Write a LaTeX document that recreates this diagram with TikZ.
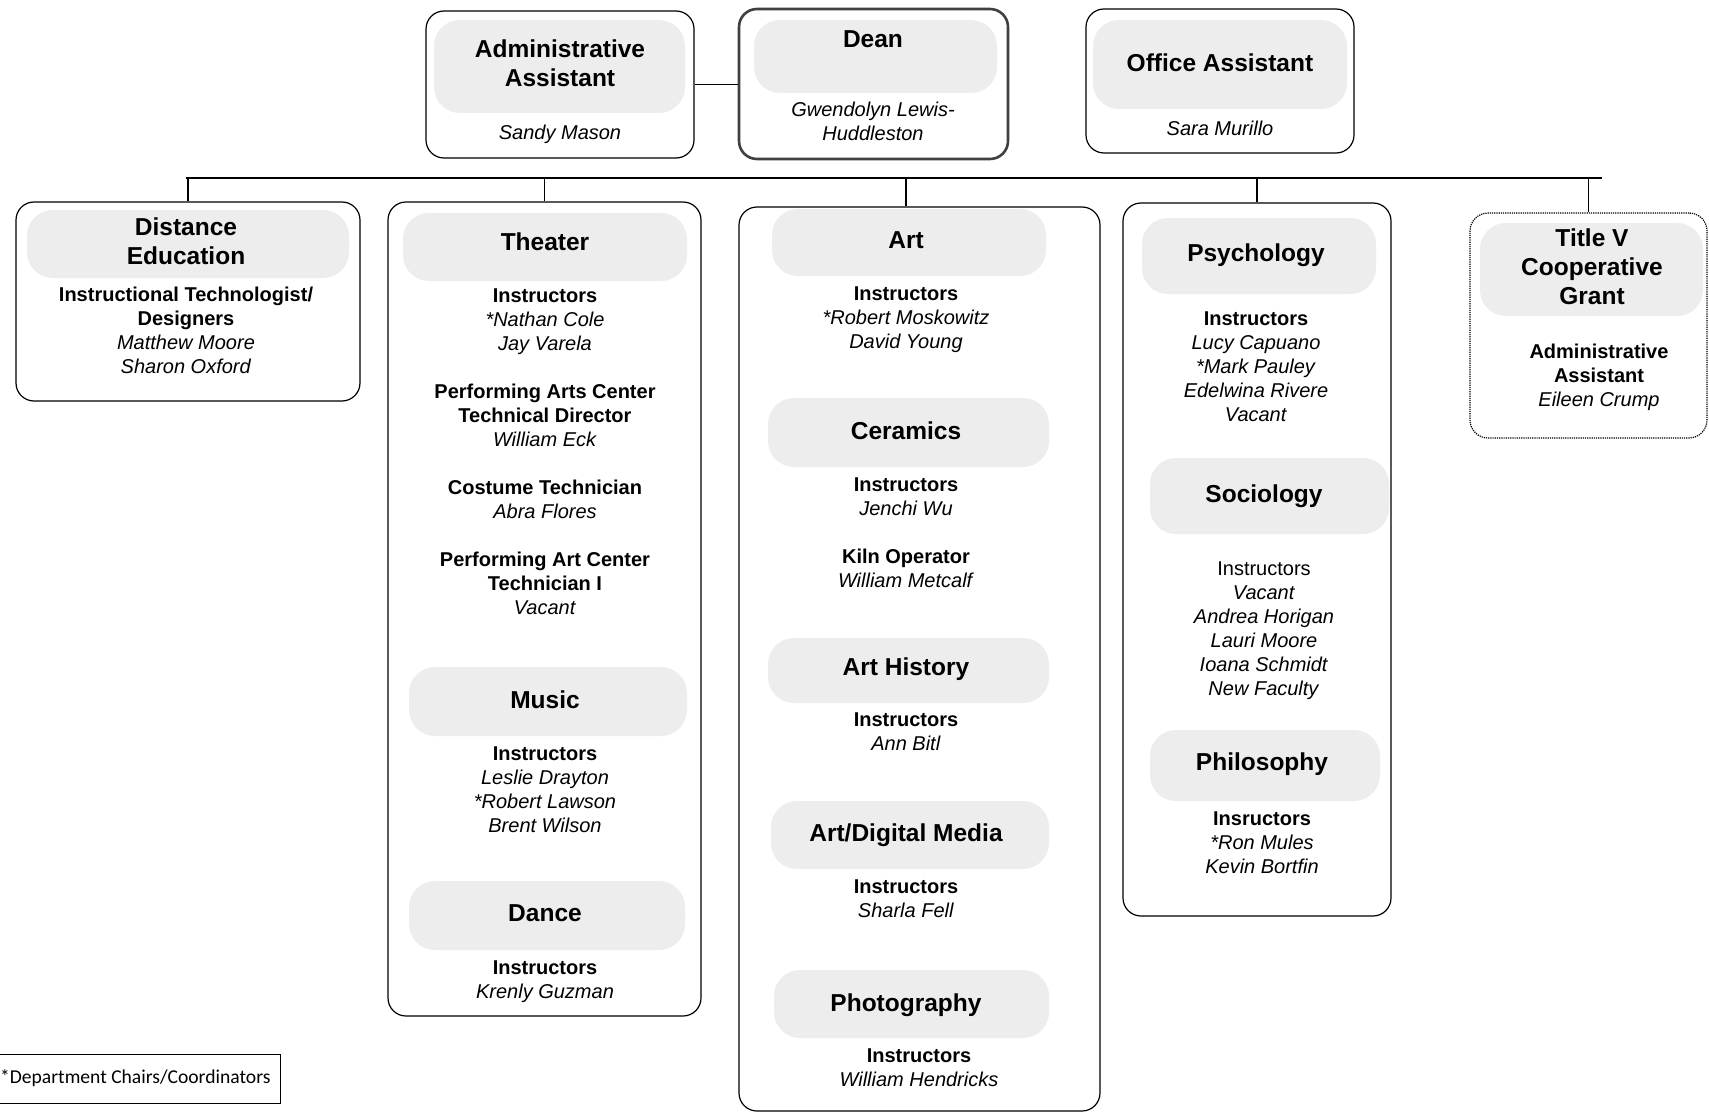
\documentclass[tikz,border=0pt]{standalone}
\usepackage{fontspec}
\setmainfont{Liberation Sans}
\newfontfamily\legendfont{Carlito}
\newcommand{\role}[1]{\textbf{#1}}
\newcommand{\who}[1]{\textit{#1}}
\newcommand{\blk}[1]{\begin{tabular}[t]{@{}c@{}}#1\end{tabular}}

\tikzset{
  unit/.style={draw, line width=1.2pt, rounded corners=18pt, inner sep=0pt},
  deanbox/.style={unit, line width=2.6pt, draw=black!75},
  grantbox/.style={unit, densely dotted},
  stip/.style={fill=black!7, rounded corners=26pt},
  head/.style={anchor=base, inner sep=0pt, font=\fontsize{24.5}{29}\selectfont\bfseries},
  body/.style={anchor=base, inner sep=0pt, font=\fontsize{20}{24}\selectfont},
  link/.style={line width=1.1pt}
}

\begin{document}
\begin{tikzpicture}[x=1pt, y=-1pt]
\path[fill=white, use as bounding box] (0,0) rectangle (1709,1113);

% speckled header areas
\foreach \a/\b/\c/\d in {434/20/685/113, 754/20/997/93, 1093/20/1347/109,
    27/210/349/278, 403/213/687/281, 409/667/687/736, 409/881/685/950,
    772/209/1046/276, 768/398/1049/467, 768/638/1049/703, 771/801/1049/869,
    774/970/1049/1038, 1142/218/1376/294, 1150/458/1389/534,
    1150/730/1380/801, 1480/223/1703/316}
  \fill[stip] (\a,\b) rectangle (\c,\d);

% top row
\node[unit, minimum width=268pt, minimum height=147pt] (admin) at (560,84.5) {};
\node[deanbox, minimum width=269pt, minimum height=150pt] (dean) at (873.5,84) {};
\node[unit, minimum width=268pt, minimum height=144pt] (office) at (1220,81) {};

% departments
\node[unit, minimum width=344pt, minimum height=199pt] (dist) at (188,301.5) {};
\node[unit, minimum width=313pt, minimum height=814pt] (theater) at (544.5,609) {};
\node[unit, minimum width=361pt, minimum height=904pt] (art) at (919.5,659) {};
\node[unit, minimum width=268pt, minimum height=713pt] (psych) at (1257,559.5) {};
\node[grantbox, minimum width=237pt, minimum height=225pt] (grant) at (1588.5,325.5) {};

% connectors
\coordinate (busL) at (186,178);
\coordinate (busR) at (1602,178);
\coordinate (artdrop) at (906,178);
\draw[link] (admin.east) -- (admin.east -| dean.west);
\draw[link] (busL) -- (busR);
\draw[link] (dist.north) -- (dist.north |- busL);
\draw[link] (theater.north) -- (theater.north |- busL);
\draw[link] (artdrop) -- (artdrop |- art.north);
\draw[link] (psych.north) -- (psych.north |- busL);
\draw[link] (grant.north) -- (grant.north |- busL);

% top row text
\node[head] (adminT) at (560,57.5) {\blk{Administrative\\Assistant}};
\node[body] (adminN) at (560,140) {\who{Sandy Mason}};
\node[head] (deanT) at (873,47.5) {Dean};
\node[body] (deanN) at (873,117) {\blk{\who{Gwendolyn Lewis-}\\\who{Huddleston}}};
\node[head] (officeT) at (1220,71.5) {Office Assistant};
\node[body] (officeN) at (1220,136) {\who{Sara Murillo}};

% distance education
\node[head] (distT) at (186,235.5) {\blk{Distance\\Education}};
\node[body] (distS) at (186,301) {\blk{\role{Instructional Technologist/}\\\role{Designers}\\\who{Matthew Moore}\\\who{Sharon Oxford}}};

% theater, music, dance
\node[head] (theaterT) at (545,250.5) {Theater};
\node[body] (theaterS) at (545,302) {\blk{\role{Instructors}\\\who{*Nathan Cole}\\\who{Jay Varela}\\[24pt]
  \role{Performing Arts Center}\\\role{Technical Director}\\\who{William Eck}\\[24pt]
  \role{Costume Technician}\\\who{Abra Flores}\\[24pt]
  \role{Performing Art Center}\\\role{Technician I}\\\who{Vacant}}};
\node[head] (musicT) at (545,708.5) {Music};
\node[body] (musicS) at (545,760) {\blk{\role{Instructors}\\\who{Leslie Drayton}\\\who{*Robert Lawson}\\\who{Brent Wilson}}};
\node[head] (danceT) at (545,921.5) {Dance};
\node[body] (danceS) at (545,974) {\blk{\role{Instructors}\\\who{Krenly Guzman}}};

% art column
\node[head] (artT) at (906,248.5) {Art};
\node[body] (artS) at (906,300) {\blk{\role{Instructors}\\\who{*Robert Moskowitz}\\\who{David Young}}};
\node[head] (ceramT) at (906,439.5) {Ceramics};
\node[body] (ceramS) at (906,491) {\blk{\role{Instructors}\\\who{Jenchi Wu}\\[24pt]\role{Kiln Operator}\\\who{William Metcalf}}};
\node[head] (histT) at (906,675.5) {Art History};
\node[body] (histS) at (906,726) {\blk{\role{Instructors}\\\who{Ann Bitl}}};
\node[head] (digiT) at (906,841.5) {Art/Digital Media};
\node[body] (digiS) at (906,893) {\blk{\role{Instructors}\\\who{Sharla Fell}}};
\node[head] (photoT) at (906,1011.5) {Photography};
\node[body] (photoS) at (919,1062) {\blk{\role{Instructors}\\\who{William Hendricks}}};

% psychology, sociology, philosophy
\node[head] (psychT) at (1256,261.5) {Psychology};
\node[body] (psychS) at (1256,325) {\blk{\role{Instructors}\\\who{Lucy Capuano}\\\who{*Mark Pauley}\\\who{Edelwina Rivere}\\\who{Vacant}}};
\node[head] (socioT) at (1264,502.5) {Sociology};
\node[body] (socioS) at (1264,575) {\blk{Instructors\\\who{Vacant}\\\who{Andrea Horigan}\\\who{Lauri Moore}\\\who{Ioana Schmidt}\\\who{New Faculty}}};
\node[head] (philoT) at (1262,770.5) {Philosophy};
\node[body] (philoS) at (1262,825) {\blk{\role{Insructors}\\\who{*Ron Mules}\\\who{Kevin Bortfin}}};

% title v grant
\node[head] (grantT) at (1592,246.5) {\blk{Title V\\Cooperative\\Grant}};
\node[body] (grantS) at (1599,358) {\blk{\role{Administrative}\\\role{Assistant}\\\who{Eileen Crump}}};

% legend
\node[draw, line width=1pt, anchor=east, minimum height=49pt, inner xsep=10pt,
  font=\legendfont\fontsize{19.6}{23}\selectfont] (legend) at (281,1078.5) {*Department Chairs/Coordinators};
\end{tikzpicture}
\end{document}
